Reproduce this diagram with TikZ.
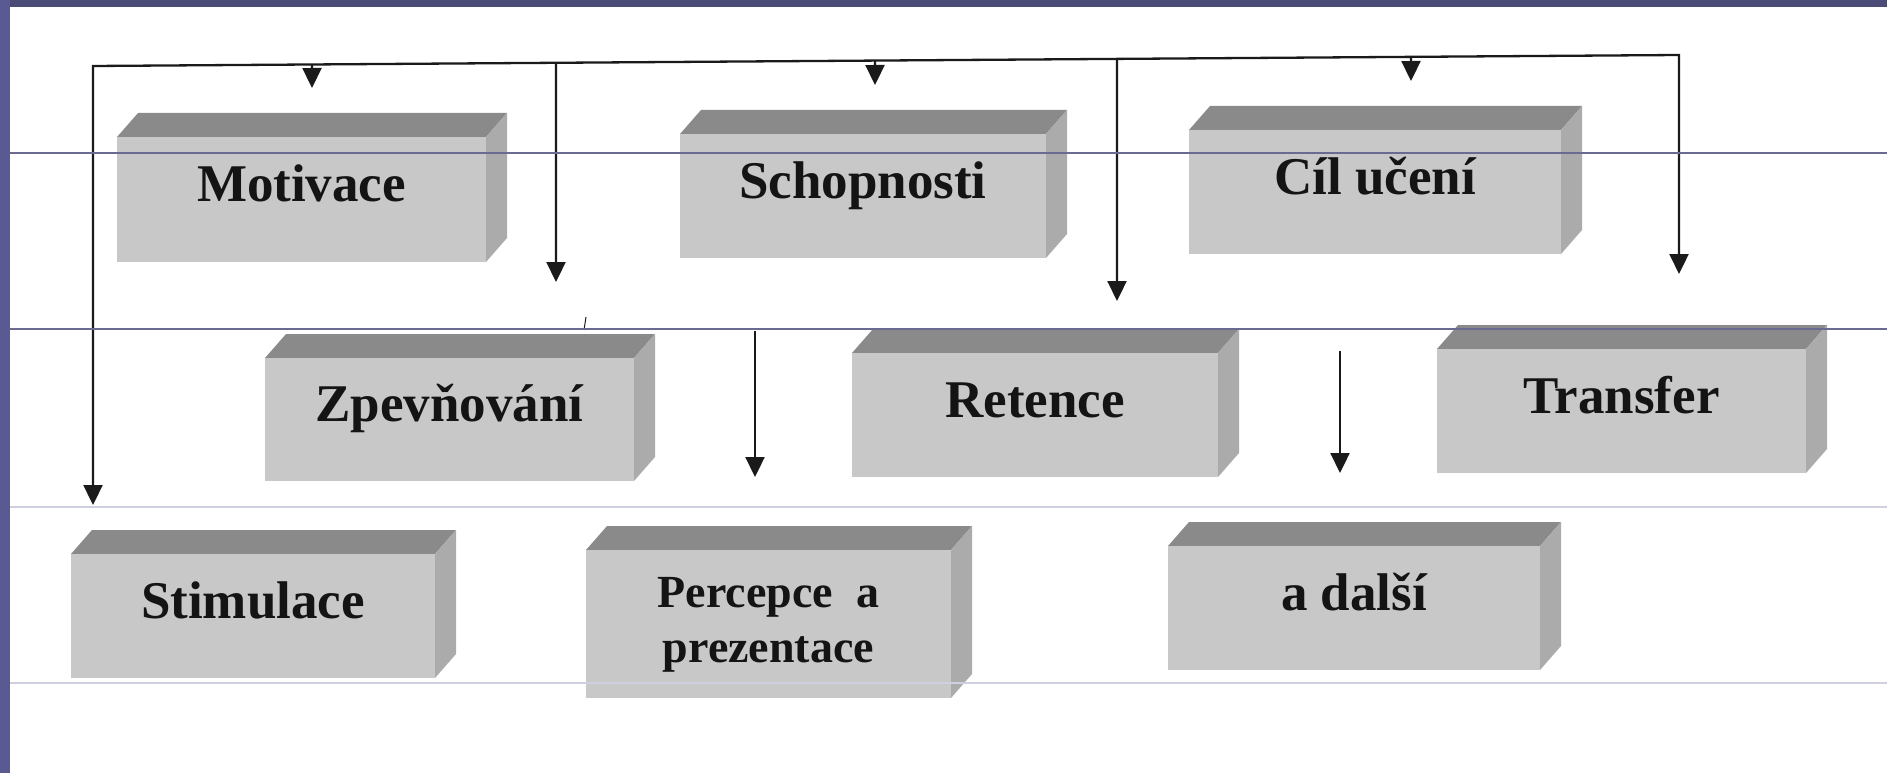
\documentclass[tikz,border=0pt]{standalone}
\usepackage{fontspec}
\setmainfont{Liberation Serif}
\usetikzlibrary{arrows.meta,calc}
\definecolor{slidetop}{HTML}{4B4B78}
\definecolor{slideleft}{HTML}{5A5A92}
\definecolor{slidedark}{HTML}{6A6A92}
\definecolor{slidelightc}{HTML}{CFCFE2}
\definecolor{boxfront}{HTML}{C8C8C8}
\definecolor{boxtop}{HTML}{8A8A8A}
\definecolor{boxside}{HTML}{ABABAB}
\definecolor{labelink}{HTML}{141414}
\definecolor{linkink}{HTML}{1A1A1A}
\tikzset{
  cfront/.style={fill=boxfront, draw=none, inner sep=0pt, outer sep=0pt},
  ctop/.style={fill=boxtop},
  cside/.style={fill=boxside},
  clabel/.style={font=\fontsize{53}{60}\selectfont\bfseries, text=labelink, inner sep=0pt, anchor=base},
  conn/.style={line width=2.3pt, draw=linkink, line join=miter},
  arr/.style={conn, -{Triangle[width=19pt,length=20pt]}},
  slideline/.style={line width=1.6pt, draw=slidedark},
  slidelight/.style={line width=1.6pt, draw=slidelightc},
}
\newcommand\slabbox[7]{%
  \fill[ctop] (#2,#3) -- ({#2+21},{#3-24}) -- ({#4+21},{#3-24}) -- (#4,#3) -- cycle;
  \fill[cside] (#4,#3) -- ({#4+21},{#3-24}) -- ({#4+21},{#5-24}) -- (#4,#5) -- cycle;
  \node[cfront, minimum width={(#4-#2)*1pt}, minimum height={(#5-#3)*1pt}] (#1) at ({(#2+#4)/2},{(#3+#5)/2}) {};
  \node[clabel] (#1-text) at ({(#2+#4)/2},{#3+#6}) {#7};
}
\begin{document}
\begin{tikzpicture}[x=1pt,y=-1pt]
\useasboundingbox (0,0) rectangle (1887,773);
\fill[white] (0,0) rectangle (1887,773);
\fill[slidetop] (0,0) rectangle (1887,7);
\fill[slideleft] (0,0) rectangle (10,773);

% boxes
\slabbox{motiv}{117}{137}{486}{262}{64}{Motivace}
\slabbox{schop}{680}{134}{1046}{258}{64}{Schopnosti}
\slabbox{cil}{1189}{130}{1561}{254}{64}{Cíl učení}
\slabbox{zpev}{265}{358}{634}{481}{63}{Zpevňování}
\slabbox{ret}{852}{353}{1218}{477}{64}{Retence}
\slabbox{trans}{1437}{349}{1806}{473}{64}{Transfer}
\slabbox{stim}{71}{554}{435}{678}{64}{Stimulace}
\slabbox{perc}{586}{550}{951}{698}{57}{{\fontsize{46}{55}\selectfont\begin{tabular}[t]{@{}c@{}}Percepce\ \ a\\prezentace\end{tabular}}}
\slabbox{dalsi}{1168}{546}{1540}{670}{64}{a další}

% connector frame
\coordinate (L) at (93,66);
\coordinate (R) at (1679,55);
\coordinate (tLeft) at (93,505);
\coordinate (tRight) at (1679,274);
\draw[conn, {Triangle[width=19pt,length=20pt]}-{Triangle[width=19pt,length=20pt]}] (tLeft) -- (L) -- (R) -- (tRight);

\coordinate (b1) at ($(L)!{(312-93)/1586}!(R)$);
\coordinate (b2) at ($(L)!{(556-93)/1586}!(R)$);
\coordinate (b3) at ($(L)!{(875-93)/1586}!(R)$);
\coordinate (b4) at ($(L)!{(1117-93)/1586}!(R)$);
\coordinate (b5) at ($(L)!{(1411-93)/1586}!(R)$);
\coordinate (t1) at (312,88);
\coordinate (t2) at (556,282);
\coordinate (t3) at (875,85);
\coordinate (t4) at (1117,301);
\coordinate (t5) at (1411,81);
\draw[arr] (b1) -- (t1);
\draw[arr] (b2) -- (t2);
\draw[arr] (b3) -- (t3);
\draw[arr] (b4) -- (t4);
\draw[arr] (b5) -- (t5);

% free arrows
\coordinate (s1) at (755,331);
\coordinate (e1) at (755,477);
\coordinate (s2) at (1340,351);
\coordinate (e2) at (1340,473);
\draw[arr] (s1) -- (e1);
\draw[arr] (s2) -- (e2);

% small tick
\draw[line width=1pt, draw=linkink] (586,317) -- (584,330);

% slide lines on top
\draw[slideline] (10,153) -- (1887,153);
\draw[slideline] (10,329) -- (1887,329);
\draw[slidelight] (10,507) -- (1887,507);
\draw[slidelight] (10,683) -- (1887,683);
\end{tikzpicture}
\end{document}
